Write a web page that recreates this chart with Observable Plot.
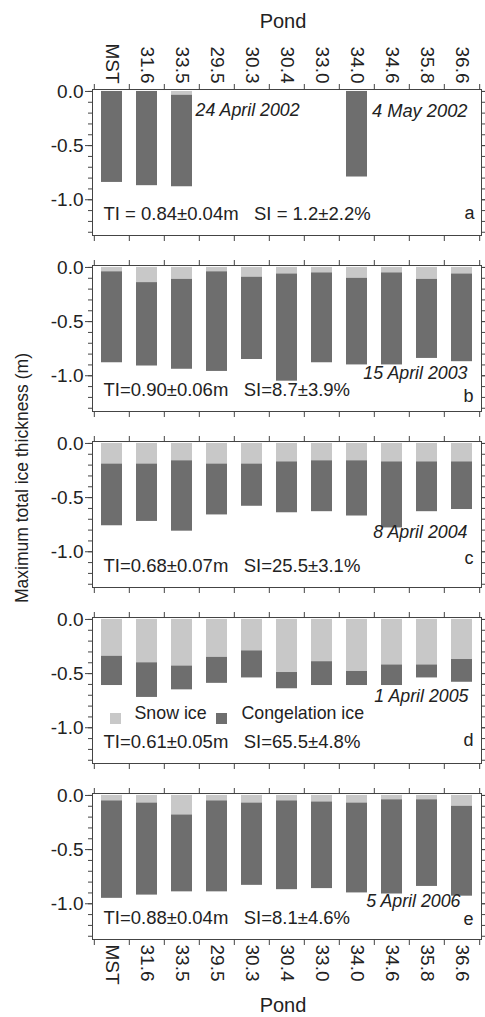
<!DOCTYPE html>
<html><head><meta charset="utf-8">
<script src="https://cdn.jsdelivr.net/npm/d3@7"></script>
<script src="https://cdn.jsdelivr.net/npm/@observablehq/plot@0.6"></script>
<style>html,body{margin:0;padding:0;background:#fff;}</style>
</head><body><div id="chart"></div>
<script>
// Categories
const ponds = ["MST","31.6","33.5","29.5","30.3","30.4","33.0","34.0","34.6","35.8","36.6"];
const panels = ["a","b","c","d","e"];
// Snow ice thickness (m) and total ice thickness (m) per pond
const snow2002  = [0.00, 0.00, 0.035, null, null, null, null, 0.00, null, null, null];
const total2002 = [0.84, 0.87, 0.88, null, null, null, null, 0.79, null, null, null];
const snow2003  = [0.04, 0.14, 0.11, 0.04, 0.09, 0.06, 0.05, 0.10, 0.05, 0.11, 0.06];
const total2003 = [0.88, 0.91, 0.94, 0.96, 0.85, 1.05, 0.88, 0.90, 0.90, 0.84, 0.87];
const snow2004  = [0.19, 0.19, 0.16, 0.19, 0.19, 0.17, 0.16, 0.16, 0.17, 0.17, 0.17];
const total2004 = [0.76, 0.72, 0.81, 0.66, 0.58, 0.64, 0.63, 0.67, 0.78, 0.63, 0.61];
const snow2005  = [0.34, 0.40, 0.43, 0.35, 0.29, 0.49, 0.39, 0.48, 0.42, 0.42, 0.37];
const total2005 = [0.61, 0.72, 0.65, 0.59, 0.54, 0.64, 0.61, 0.61, 0.61, 0.54, 0.58];
const snow2006  = [0.05, 0.07, 0.18, 0.05, 0.07, 0.05, 0.06, 0.07, 0.04, 0.04, 0.10];
const total2006 = [0.95, 0.92, 0.89, 0.89, 0.83, 0.87, 0.86, 0.90, 0.91, 0.84, 0.93];
// Texts
const dates = ["24 April 2002", "15 April 2003", "8 April 2004", "1 April 2005", "5 April 2006"];
const date2002b = "4 May 2002";
const stats = [
  "TI = 0.84±0.04m\u00a0\u00a0\u00a0SI = 1.2±2.2%",
  "TI=0.90±0.06m\u00a0\u00a0\u00a0SI=8.7±3.9%",
  "TI=0.68±0.07m\u00a0\u00a0\u00a0SI=25.5±3.1%",
  "TI=0.61±0.05m\u00a0\u00a0\u00a0SI=65.5±4.8%",
  "TI=0.88±0.04m\u00a0\u00a0\u00a0SI=8.1±4.6%"
];
const seriesNames = ["Snow ice", "Congelation ice"];
const colors = ["#c8c8c8", "#6e6e6e"];
const majorTicks = [0, -0.5, -1.0];
const minorTicks = [0, -0.1, -0.2, -0.3, -0.4, -0.5, -0.6, -0.7, -0.8, -0.9, -1.0, -1.1, -1.2, -1.3];
const xLabel = "Pond";
const yLabel = "Maximum total ice thickness (m)";

const snows = [snow2002, snow2003, snow2004, snow2005, snow2006];
const totals = [total2002, total2003, total2004, total2005, total2006];
const rows = panels.flatMap((p, k) => ponds.map((pond, i) => ({panel: p, pond, snow: snows[k][i], total: totals[k][i]})))
  .filter(d => d.total != null);

const W = 485, H = 1017, mL = 92, mR = 4, mT = 87, mB = 75;
const step = (W - mL - mR) / ponds.length;
const fmt = d => d3.format(".1f")(d).replace("\u2212", "-");
const ink = "#444";
const font = "'Liberation Sans', Arial, sans-serif";

function note(panel, text, o) {
  return Plot.text([{panel, text}], {fy: "panel", text: "text", fontSize: 17.8, fill: "#222", ...o});
}

const marks = [
  Plot.barY(rows, {x: "pond", fy: "panel", y1: 0, y2: d => -d.snow, fill: colors[0]}),
  Plot.barY(rows, {x: "pond", fy: "panel", y1: d => -d.snow, y2: d => -d.total, fill: colors[1]}),
  Plot.frame({stroke: ink}),
  // y axes
  Plot.axisY({anchor: "left", ticks: majorTicks, tickSize: 7, tickPadding: 2, tickFormat: fmt, fontSize: 19, stroke: ink, label: null}),
  Plot.axisY({anchor: "left", ticks: minorTicks, tickSize: 4, text: null, stroke: ink, label: null}),
  Plot.axisY({anchor: "right", ticks: majorTicks, tickSize: 6, text: null, stroke: ink, label: null}),
  Plot.axisY({anchor: "right", ticks: minorTicks, tickSize: 3, text: null, stroke: ink, label: null}),
  // x tick labels
  Plot.axisX({anchor: "top", tickSize: 0, tickPadding: 6, tickRotate: 90, textAnchor: "end", lineAnchor: "middle", fontSize: 19, label: null}),
  Plot.axisX({anchor: "bottom", tickSize: 0, tickPadding: 5, tickRotate: 90, textAnchor: "start", lineAnchor: "middle", fontSize: 19, label: null}),
  // x boundary ticks on every panel
  Plot.axisX({anchor: "top", tickSize: 6, text: null, label: null, dx: -step / 2, facetAnchor: null, stroke: ink}),
  Plot.axisX({anchor: "top", ticks: [ponds[ponds.length - 1]], tickSize: 6, text: null, label: null, dx: step / 2, facetAnchor: null, stroke: ink}),
  Plot.axisX({anchor: "bottom", tickSize: 6, text: null, label: null, dx: -step / 2, facetAnchor: null, stroke: ink}),
  Plot.axisX({anchor: "bottom", ticks: [ponds[ponds.length - 1]], tickSize: 6, text: null, label: null, dx: step / 2, facetAnchor: null, stroke: ink}),
  // panel a dates
  note("a", dates[0], {frameAnchor: "top-left", textAnchor: "start", dx: 103, dy: 14, fontStyle: "italic"}),
  note("a", date2002b, {frameAnchor: "top-right", textAnchor: "end", dx: -14, dy: 14, fontStyle: "italic", fontSize: 18.3}),
  // dates b-e
  note("b", dates[1], {frameAnchor: "bottom-right", textAnchor: "end", dx: -14, dy: -33, fontStyle: "italic"}),
  note("c", dates[2], {frameAnchor: "bottom-right", textAnchor: "end", dx: -14, dy: -50, fontStyle: "italic"}),
  note("d", dates[3], {frameAnchor: "bottom-right", textAnchor: "end", dx: -13, dy: -62, fontStyle: "italic"}),
  note("e", dates[4], {frameAnchor: "bottom-right", textAnchor: "end", dx: -21, dy: -33, fontStyle: "italic"}),
  // stats
  ...panels.map((p, k) => note(p, stats[k], {frameAnchor: "bottom-left", textAnchor: "start", dx: 11, dy: -16, fontSize: 18.5})),
  // panel letters
  note("a", "a", {frameAnchor: "bottom-right", textAnchor: "end", dx: -7, dy: -17, fontSize: 18}),
  note("b", "b", {frameAnchor: "bottom-right", textAnchor: "end", dx: -8, dy: -10, fontSize: 18}),
  note("c", "c", {frameAnchor: "bottom-right", textAnchor: "end", dx: -8, dy: -24, fontSize: 18}),
  note("d", "d", {frameAnchor: "bottom-right", textAnchor: "end", dx: -8, dy: -18, fontSize: 18}),
  note("e", "e", {frameAnchor: "bottom-right", textAnchor: "end", dx: -8, dy: -15, fontSize: 18}),
  // legend in panel d
  Plot.dot([{panel: "d"}], {fy: "panel", frameAnchor: "bottom-left", dx: 23, dy: -45, symbol: "square", r: 6.2, fill: colors[0]}),
  note("d", seriesNames[0], {frameAnchor: "bottom-left", textAnchor: "start", dx: 42, dy: -45}),
  Plot.dot([{panel: "d"}], {fy: "panel", frameAnchor: "bottom-left", dx: 129, dy: -45, symbol: "square", r: 6.2, fill: colors[1]}),
  note("d", seriesNames[1], {frameAnchor: "bottom-left", textAnchor: "start", dx: 149, dy: -45})
];

const chart = Plot.plot({
  width: W, height: H,
  marginLeft: mL, marginRight: mR, marginTop: mT, marginBottom: mB,
  style: {fontFamily: font, fontSize: "17px", color: "#222", background: "#fff"},
  x: {domain: ponds, paddingInner: 0.4, paddingOuter: 0.2},
  y: {domain: [-1.33, 0.018]},
  fy: {domain: panels, paddingInner: 30 / 177, paddingOuter: 0, axis: null},
  marks
});

// Axis titles
const svg = d3.select(chart);
const titles = svg.append("g").attr("fill", "#222").attr("font-family", font).attr("text-anchor", "middle");
titles.append("text").attr("x", 283).attr("y", 28).attr("font-size", 20).text(xLabel);
titles.append("text").attr("x", 283).attr("y", 1012).attr("font-size", 20).text(xLabel);
titles.append("text").attr("transform", "translate(28,478) rotate(-90)").attr("font-size", 17.5).text(yLabel);

document.getElementById("chart").appendChild(chart);
</script>
</body></html>
